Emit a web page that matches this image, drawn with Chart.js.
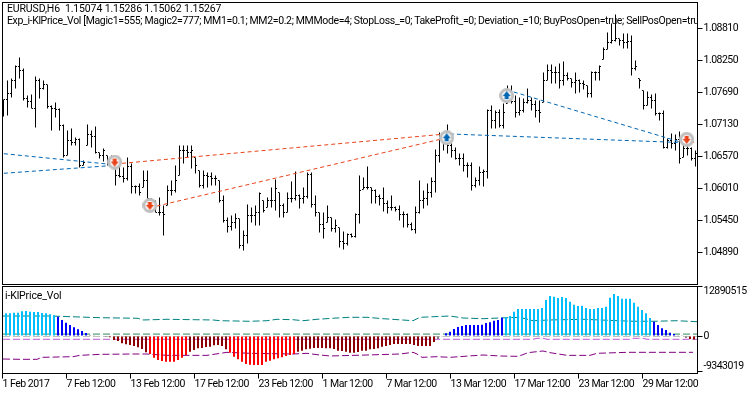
<!DOCTYPE html>
<html>
<head>
<meta charset="utf-8">
<title>EURUSD,H6</title>
<script src="https://cdn.jsdelivr.net/npm/chart.js@4"></script>
<style>
  body { margin: 0; background: #fff; width: 750px; height: 394px; overflow: hidden; position: relative; }
  canvas { position: absolute; left: 0; }
  #priceChart { top: 0; }
  #volChart { top: 285px; }
  .caption { position: absolute; white-space: pre; overflow: hidden; color: #000; font: 10.5px Roboto, sans-serif; line-height: 12px; letter-spacing: -0.13px; }
</style>
</head>
<body>
<canvas id="priceChart" width="750" height="285"></canvas>
<canvas id="volChart" width="750" height="109"></canvas>
<div class="caption" style="left:7px;top:3px;width:690px">EURUSD,H6  1.15074 1.15286 1.15062 1.15267</div>
<div class="caption" style="left:7px;top:15px;width:690px;letter-spacing:-0.35px">Exp_i-KlPrice_Vol [Magic1=555; Magic2=777; MM1=0.1; MM2=0.2; MMMode=4; StopLoss_=0; TakeProfit_=0; Deviation_=10; BuyPosOpen=true; SellPosOpen=true; BuyPosClose=true; SellPosClose=true]</div>
<div class="caption" style="left:5px;top:290px">i-KlPrice_Vol</div>
<script>
// Price bars
const priceHigh = [1.07568,1.07900,1.07935,1.08163,1.08303,1.08110,1.07638,1.07655,1.07970,1.07935,1.07900,1.07830,1.07463,1.07515,1.07410,1.07130,1.07025,1.07060,1.06903,1.06885,1.06500,1.07130,1.07025,1.07095,1.06640,1.06710,1.06588,1.06588,1.06500,1.06413,1.06378,1.06553,1.06448,1.06063,1.06098,1.06325,1.06325,1.05835,1.05800,1.05853,1.05713,1.06063,1.06150,1.06413,1.06763,1.06763,1.06763,1.06763,1.06553,1.06325,1.06325,1.06290,1.06290,1.06238,1.06150,1.05888,1.05503,1.05538,1.05573,1.05485,1.05275,1.05730,1.05678,1.05713,1.05940,1.05800,1.05853,1.06028,1.06168,1.05940,1.05748,1.05940,1.06133,1.06308,1.05905,1.06028,1.06290,1.06290,1.05888,1.05590,1.05590,1.05713,1.05503,1.05468,1.05328,1.05258,1.05223,1.05223,1.05573,1.06238,1.06203,1.06395,1.06028,1.05993,1.05905,1.06028,1.05800,1.05888,1.05695,1.05713,1.05608,1.05573,1.05415,1.05695,1.06150,1.05975,1.06098,1.06203,1.06693,1.06990,1.06903,1.07130,1.06798,1.06728,1.06623,1.06623,1.06465,1.06465,1.06203,1.06395,1.06343,1.07393,1.07463,1.07375,1.07393,1.07498,1.07813,1.07813,1.07638,1.07603,1.07585,1.07760,1.07603,1.07550,1.07550,1.08040,1.08180,1.08180,1.08145,1.08198,1.08233,1.08040,1.07935,1.08040,1.07918,1.07900,1.07813,1.08058,1.08058,1.08163,1.08478,1.08740,1.08898,1.09055,1.08635,1.08723,1.08723,1.08688,1.08250,1.07935,1.07725,1.07708,1.07655,1.07673,1.07340,1.07375,1.06885,1.06973,1.06955,1.07008,1.06815,1.06798,1.06728,1.06675];
const priceLow = [1.07270,1.07288,1.07603,1.07760,1.07935,1.07550,1.07428,1.07410,1.07078,1.07585,1.07743,1.07410,1.07025,1.07253,1.07025,1.06553,1.06588,1.06763,1.06763,1.06378,1.06413,1.06763,1.06728,1.06623,1.06535,1.06483,1.06413,1.06413,1.06063,1.06203,1.06115,1.06150,1.05923,1.05923,1.05888,1.06028,1.05835,1.05625,1.05590,1.05538,1.05188,1.05713,1.05888,1.05940,1.06238,1.06448,1.06553,1.06360,1.06273,1.06028,1.06010,1.06028,1.06063,1.06063,1.05765,1.05415,1.05240,1.05275,1.05310,1.04960,1.04925,1.05048,1.05415,1.05363,1.05363,1.05590,1.05678,1.05678,1.05625,1.05503,1.05503,1.05590,1.05765,1.05800,1.05660,1.05748,1.05835,1.05678,1.05520,1.05240,1.05135,1.05415,1.05258,1.05240,1.04978,1.04943,1.05013,1.05153,1.05153,1.05398,1.05993,1.05993,1.05748,1.05748,1.05713,1.05608,1.05573,1.05625,1.05608,1.05450,1.05328,1.05328,1.05275,1.05223,1.05573,1.05660,1.05713,1.05853,1.05940,1.06465,1.06675,1.06623,1.06553,1.06518,1.06413,1.06308,1.06203,1.05975,1.06028,1.06063,1.06045,1.06185,1.07060,1.07060,1.07078,1.07060,1.07498,1.07498,1.07253,1.07288,1.07340,1.07498,1.07375,1.07253,1.07165,1.07515,1.07900,1.07848,1.07848,1.07760,1.07813,1.07900,1.07778,1.07673,1.07690,1.07743,1.07603,1.07603,1.07900,1.07900,1.08268,1.08443,1.08548,1.08583,1.08513,1.08460,1.08460,1.07988,1.08075,1.07760,1.07393,1.07463,1.07410,1.07288,1.07200,1.06710,1.06710,1.06710,1.06675,1.06448,1.06553,1.06588,1.06500,1.06395];
const priceOpen = [1.07463,1.07568,1.07673,1.07900,1.08145,1.08075,1.07585,1.07533,1.07410,1.07900,1.07760,1.07830,1.07445,1.07410,1.07393,1.07113,1.06588,1.06850,1.06815,1.06868,1.06413,1.06763,1.06955,1.06920,1.06640,1.06588,1.06588,1.06448,1.06500,1.06238,1.06220,1.06185,1.06395,1.06045,1.06045,1.06028,1.06150,1.05835,1.05713,1.05590,1.05590,1.05713,1.05975,1.05975,1.06238,1.06675,1.06675,1.06640,1.06553,1.06325,1.06063,1.06238,1.06220,1.06185,1.06150,1.05800,1.05450,1.05345,1.05415,1.05485,1.05013,1.05188,1.05538,1.05538,1.05590,1.05800,1.05678,1.05800,1.05800,1.05940,1.05713,1.05590,1.05835,1.05835,1.05888,1.05835,1.05870,1.06255,1.05730,1.05590,1.05380,1.05415,1.05503,1.05310,1.05328,1.05083,1.05048,1.05205,1.05170,1.05555,1.05993,1.06028,1.06028,1.05975,1.05870,1.05835,1.05748,1.05678,1.05678,1.05643,1.05555,1.05555,1.05380,1.05293,1.05590,1.05800,1.05835,1.05940,1.06133,1.06588,1.06903,1.06850,1.06763,1.06675,1.06535,1.06535,1.06413,1.06413,1.06063,1.06150,1.06290,1.06308,1.07375,1.07200,1.07340,1.07113,1.07498,1.07725,1.07533,1.07340,1.07375,1.07515,1.07550,1.07480,1.07375,1.07515,1.07900,1.08075,1.08040,1.08040,1.07900,1.07988,1.07935,1.07865,1.07900,1.07848,1.07813,1.07673,1.08040,1.08040,1.08268,1.08443,1.08565,1.08600,1.08635,1.08600,1.08565,1.08583,1.08110,1.07935,1.07725,1.07463,1.07603,1.07550,1.07323,1.07323,1.06728,1.06850,1.06798,1.06868,1.06553,1.06710,1.06710,1.06535];
const priceClose = [1.07568,1.07673,1.07900,1.08145,1.08075,1.07585,1.07533,1.07410,1.07900,1.07760,1.07830,1.07445,1.07410,1.07393,1.07113,1.06588,1.06850,1.06815,1.06868,1.06413,1.06465,1.06955,1.06920,1.06640,1.06588,1.06675,1.06448,1.06500,1.06238,1.06220,1.06185,1.06395,1.06045,1.06045,1.05940,1.06150,1.05835,1.05713,1.05590,1.05590,1.05555,1.05975,1.05975,1.06150,1.06675,1.06675,1.06640,1.06675,1.06413,1.06063,1.06238,1.06220,1.06185,1.06185,1.05800,1.05450,1.05345,1.05415,1.05485,1.05013,1.05188,1.05538,1.05538,1.05590,1.05923,1.05625,1.05800,1.05800,1.06010,1.05713,1.05590,1.05835,1.05835,1.05888,1.05835,1.05870,1.06255,1.05730,1.05590,1.05380,1.05310,1.05503,1.05310,1.05363,1.05083,1.05048,1.05205,1.05170,1.05555,1.05975,1.06028,1.06028,1.05975,1.05870,1.05835,1.05748,1.05678,1.05678,1.05643,1.05555,1.05555,1.05380,1.05293,1.05590,1.05800,1.05835,1.05940,1.06133,1.06588,1.06903,1.06850,1.06763,1.06675,1.06535,1.06535,1.06413,1.06413,1.06063,1.06150,1.06290,1.06308,1.07375,1.07200,1.07340,1.07113,1.07340,1.07725,1.07533,1.07340,1.07375,1.07515,1.07550,1.07480,1.07375,1.07340,1.07900,1.08075,1.08040,1.08040,1.07900,1.07988,1.07935,1.07865,1.07900,1.07848,1.07830,1.07673,1.08040,1.08040,1.08145,1.08443,1.08565,1.08600,1.08635,1.08600,1.08565,1.08583,1.08110,1.08145,1.07900,1.07463,1.07603,1.07550,1.07323,1.07323,1.06728,1.06850,1.06798,1.06868,1.06535,1.06710,1.06710,1.06535,1.06623];

const priceTicks = [1.08810, 1.08250, 1.07690, 1.07130, 1.06570, 1.06010, 1.05450, 1.04890];

// Trade lines: bar position and price of the knots
const sellLine1X = [27.9, 110.6];
const sellLine1Y = [1.06439, 1.06964];
const sellLine2X = [36.6, 110.6];
const sellLine2Y = [1.05674, 1.06894];
const sellLine3X = [169.9, 172.9];
const sellLine3Y = [1.06819, 1.06819];
const buyLine1X = [0.1, 26.6];
const buyLine1Y = [1.06619, 1.06434];
const buyLine2X = [0.1, 26.6];
const buyLine2Y = [1.06276, 1.06409];
const buyLine3X = [111.6, 170.4];
const buyLine3Y = [1.06964, 1.06812];
const buyLine4X = [125.9, 170.4];
const buyLine4Y = [1.07734, 1.06799];

// Deal markers
const sellMarkX = [27.8, 36.6, 170.8];
const sellMarkY = [1.06472, 1.05713, 1.06870];
const buyMarkX = [110.8, 125.8];
const buyMarkY = [1.06899, 1.07636];

// Indicator histogram
const volValues = [5938000,5938000,6095000,6095000,6461000,6539000,6356000,6278000,6278000,6016000,5938000,5676000,5415000,5048000,4185000,3479000,2877000,2276000,1753000,1308000,785000,262000,183000,131000,-131000,-262000,-340000,-1046000,-1308000,-1909000,-2171000,-2354000,-2616000,-2956000,-3400000,-4264000,-4708000,-5676000,-6278000,-6539000,-6722000,-6722000,-6722000,-6278000,-5676000,-4970000,-4107000,-3662000,-3217000,-3139000,-2877000,-2799000,-2433000,-2354000,-2616000,-3479000,-4368000,-5415000,-6095000,-6722000,-7324000,-7507000,-7586000,-7586000,-7586000,-6722000,-6461000,-6095000,-5833000,-5571000,-5231000,-4970000,-4708000,-4107000,-3845000,-3479000,-3322000,-3139000,-3139000,-3139000,-3217000,-3217000,-3400000,-3845000,-3924000,-4107000,-4368000,-4368000,-4185000,-3845000,-3845000,-3479000,-3400000,-3217000,-2799000,-2616000,-2354000,-2093000,-2093000,-2093000,-2093000,-2093000,-2354000,-2616000,-2616000,-2616000,-2616000,-1569000,-785000,-78000,706000,1125000,1831000,2354000,2616000,2877000,2877000,2877000,2877000,2956000,3400000,3584000,4002000,4185000,4787000,4891000,5231000,6356000,7062000,7062000,7062000,7062000,7062000,7062000,7324000,9417000,10463000,10280000,9940000,10201000,9940000,8972000,8187000,7847000,7926000,7324000,7062000,7062000,7324000,7324000,7664000,10018000,10986000,10463000,9757000,9757000,9757000,8710000,7664000,6801000,5938000,4708000,3740000,2877000,2014000,1569000,863000,523000,78000,52000,-523000,-785000,-916000];
// colour index of each bar, as the indicator buffer holds it: 0 sky, 1 blue, 2 gray, 3 dark red, 4 red
const volState = [0,0,0,0,0,0,0,0,0,0,0,0,0,1,1,1,1,1,1,1,1,2,2,2,2,2,3,3,3,3,3,3,3,3,3,3,4,4,4,4,4,4,4,4,4,4,3,3,3,3,3,3,3,3,3,3,4,4,4,4,4,4,4,4,4,4,4,4,4,4,4,4,4,3,3,3,3,3,3,3,3,3,3,3,3,3,3,3,3,3,3,3,3,3,3,3,3,3,3,3,3,3,3,3,3,3,3,3,2,2,1,1,1,1,1,1,1,1,1,1,1,1,1,1,1,0,0,0,0,0,0,0,0,0,0,0,0,0,0,0,0,0,0,0,0,0,0,0,0,0,0,0,0,0,0,0,0,0,0,0,0,0,1,1,1,1,1,1,2,2,2,3,3];
const stateColors = ["#00BFFF", "#0000FF", "#808080", "#8B0000", "#FF0000"];

// Indicator level lines
const upperX = [-0.75,11,23.5,33,34.25,40.25,51.75,53.5,61,65.25,67.75,71.75,74.25,77.75,82.75,86,90.25,94.25,101.75,103.5,111,114.25,119.25,123.5,128.5,131.75,136,144.25,156.75,161.75,167.75,172.75];
const upperY = [5230000,5230000,4790000,4630000,4190000,4370000,4190000,4000000,3850000,4000000,4370000,4260000,4000000,4370000,4710000,4890000,4890000,4530000,4000000,4890000,5230000,4710000,4530000,4710000,4890000,4000000,4190000,4370000,3850000,3850000,4000000,3740000];
const nearUpX = [-0.75, 172.75];
const nearUpY = [500000, 500000];
const levelZeroX = [-0.75, 172.75];
const levelZeroY = [-130000, -130000];
const nearDownX = [-0.75,131.75,132.75,134.25,135.25,156,156.75,159.25,160.25,172.75];
const nearDownY = [-860000,-860000,-600000,-600000,-860000,-860000,-600000,-600000,-860000,-860000];
const lowerX = [-0.75,3.5,7.75,9,16.75,18.5,23.5,31.75,35.25,40.25,50.25,55.25,61,71.75,75.25,77.75,81,84.25,90.25,98.5,101.75,102.75,104,107.75,111,119.25,123.5,127.75,129,130.5,134.25,136,140.25,146,147.75,155.25,171.75];
const lowerY = [-6020000,-6100000,-6100000,-5580000,-5410000,-5060000,-4800000,-4710000,-4710000,-5060000,-5060000,-4270000,-4530000,-4710000,-4530000,-4880000,-5230000,-5140000,-4970000,-4710000,-4270000,-4710000,-5580000,-5410000,-5580000,-4970000,-5230000,-5320000,-4970000,-4360000,-3920000,-4360000,-5060000,-5060000,-4530000,-4270000,-4270000];

const volTicks = [12890515, 0, -9343019];
const dateTickBars = [-0.875, 15.125, 31.125, 47.125, 63.125, 79.125, 95.125, 111.125, 127.125, 143.125, 159.125];
const dateLabels = ["1 Feb 2017", "7 Feb 12:00", "13 Feb 12:00", "17 Feb 12:00", "23 Feb 12:00", "1 Mar 12:00", "7 Mar 12:00", "13 Mar 12:00", "17 Mar 12:00", "23 Mar 12:00", "29 Mar 12:00"];

const LABEL_FONT = { family: "Roboto", size: 10.5 };
const BLUE = "#0066B3";
const RED = "#E8431B";

// frame around the plot area, tighter label spacing
const frame = {
    id: "frame",
    beforeDraw(chart) {
        chart.ctx.letterSpacing = "-0.5px";
    },
    afterDraw(chart) {
        const a = chart.chartArea, ctx = chart.ctx;
        ctx.save();
        ctx.strokeStyle = "#000";
        ctx.lineWidth = 1;
        ctx.strokeRect(a.left, a.top, a.right - a.left, a.bottom - a.top);
        ctx.restore();
    }
};

function xy(xs, ys) {
    return xs.map((x, i) => ({ x: x, y: ys[i] }));
}

function dashedLine(xs, ys, color, dash, order) {
    return {
        type: "line", data: xy(xs, ys), borderColor: color, borderWidth: 1,
        borderDash: dash, pointRadius: 0, tension: 0, order: order
    };
}

// OHLC side tick, one pixel left or right of the bar
function sideTick(side) {
    let c = document.createElement("canvas");
    c.width = 3; c.height = 1;
    let ctx = c.getContext("2d");
    ctx.fillStyle = "#000";
    ctx.fillRect(side < 0 ? 0 : 2, 0, 1, 1);
    return c;
}

// gray ring with an arrow inside
function dealMark(color, up) {
    let c = document.createElement("canvas");
    c.width = 15; c.height = 15;
    let ctx = c.getContext("2d");
    ctx.fillStyle = "#fff";
    ctx.strokeStyle = "#C0C0C0";
    ctx.lineWidth = 3;
    ctx.beginPath();
    ctx.arc(7.5, 7.5, 6, 0, Math.PI * 2);
    ctx.fill();
    ctx.stroke();
    ctx.fillStyle = color;
    ctx.beginPath();
    if (up) {
        ctx.moveTo(7.5, 3); ctx.lineTo(11.5, 8); ctx.lineTo(9.5, 8); ctx.lineTo(9.5, 11);
        ctx.lineTo(5.5, 11); ctx.lineTo(5.5, 8); ctx.lineTo(3.5, 8);
    } else {
        ctx.moveTo(7.5, 12); ctx.lineTo(11.5, 7); ctx.lineTo(9.5, 7); ctx.lineTo(9.5, 4);
        ctx.lineTo(5.5, 4); ctx.lineTo(5.5, 7); ctx.lineTo(3.5, 7);
    }
    ctx.closePath();
    ctx.fill();
    return c;
}

function tickPoints(values, side) {
    return {
        type: "line", data: values.map((v, i) => ({ x: i, y: v })), showLine: false,
        pointStyle: sideTick(side), pointRadius: 1, order: 2
    };
}

function markPoints(xs, ys, color, up) {
    return {
        type: "line", data: xy(xs, ys), showLine: false,
        pointStyle: dealMark(color, up), pointRadius: 7, order: 0
    };
}

// y axis keeps a fixed width and no label margins, so the plot area stays where the padding puts it
function fixYAxis(s) {
    s.width = 52.5;
    s.paddingTop = 0;
    s.paddingBottom = 0;
}

new Chart(document.getElementById("priceChart"), {
    data: {
        datasets: [
            {
                type: "bar", data: priceHigh.map((h, i) => ({ x: i, y: [priceLow[i], h] })),
                backgroundColor: "#000", barThickness: 1, inflateAmount: 0, order: 2
            },
            tickPoints(priceOpen, -1),
            tickPoints(priceClose, 1),
            dashedLine(sellLine1X, sellLine1Y, RED, [4, 3], 1),
            dashedLine(sellLine2X, sellLine2Y, RED, [4, 3], 1),
            dashedLine(sellLine3X, sellLine3Y, RED, [4, 3], 1),
            dashedLine(buyLine1X, buyLine1Y, BLUE, [4, 3], 1),
            dashedLine(buyLine2X, buyLine2Y, BLUE, [4, 3], 1),
            dashedLine(buyLine3X, buyLine3Y, BLUE, [4, 3], 1),
            dashedLine(buyLine4X, buyLine4Y, BLUE, [4, 3], 1),
            markPoints(sellMarkX, sellMarkY, RED, false),
            markPoints(buyMarkX, buyMarkY, BLUE, true)
        ]
    },
    options: {
        responsive: false,
        animation: false,
        devicePixelRatio: 1,
        layout: { autoPadding: false, padding: { left: 2.5, top: 2.5, right: 0, bottom: 0.5 } },
        plugins: { legend: { display: false }, tooltip: { enabled: false } },
        scales: {
            x: { type: "linear", display: false, offset: false, min: -0.25, max: 173.5, grid: { offset: false } },
            y: {
                position: "right", min: 1.0433, max: 1.09265,
                afterBuildTicks: s => { s.ticks = priceTicks.map(v => ({ value: v })); },
                afterFit: fixYAxis,
                border: { color: "#000" },
                grid: { drawOnChartArea: false, tickLength: 5, tickColor: "#000" },
                ticks: { color: "#000", font: LABEL_FONT, padding: 1, callback: v => v.toFixed(5) }
            }
        }
    },
    plugins: [frame]
});

new Chart(document.getElementById("volChart"), {
    data: {
        datasets: [
            {
                type: "bar", data: volValues.map((v, i) => ({ x: i, y: v })),
                backgroundColor: volState.map(s => stateColors[s]), barThickness: 2, inflateAmount: 0, order: 1
            },
            dashedLine(upperX, upperY, "#008080", [7, 3], 2),
            dashedLine(nearUpX, nearUpY, "#2E8B57", [7, 3], 2),
            dashedLine(levelZeroX, levelZeroY, "#C0C0C0", [7, 3], 2),
            dashedLine(nearDownX, nearDownY, "#BA55D3", [7, 3], 2),
            dashedLine(lowerX, lowerY, "#800080", [7, 3], 2)
        ]
    },
    options: {
        responsive: false,
        animation: false,
        devicePixelRatio: 1,
        layout: { autoPadding: false, padding: { left: 2.5, top: 1.5, right: 0, bottom: 0 } },
        plugins: { legend: { display: false }, tooltip: { enabled: false } },
        scales: {
            x: {
                type: "linear", position: "bottom", offset: false, min: -0.875, max: 172.875,
                afterBuildTicks: s => { s.ticks = dateTickBars.map(v => ({ value: v })); },
                afterFit: s => { s.height = 20.5; s.paddingLeft = 0; s.paddingRight = 0; },
                border: { color: "#000" },
                grid: { offset: false, drawOnChartArea: false, tickLength: 5, tickColor: "#000" },
                ticks: {
                    color: "#000", font: LABEL_FONT, padding: 0, align: "start", autoSkip: false, maxRotation: 0,
                    callback: (v, i) => dateLabels[i]
                }
            },
            y: {
                position: "right", min: -9808912, max: 12947765,
                afterBuildTicks: s => { s.ticks = volTicks.map(v => ({ value: v })); },
                afterFit: fixYAxis,
                border: { color: "#000" },
                grid: { drawOnChartArea: false, tickLength: 5, tickColor: "#000" },
                ticks: {
                    color: "#000", font: { family: "Roboto", size: 10.5, lineHeight: "10px" }, padding: 1,
                    callback: v => v === volTicks[0] ? ["", String(v)] : v === volTicks[2] ? [String(v), ""] : String(v)
                }
            }
        }
    },
    plugins: [frame]
});
</script>
</body>
</html>
